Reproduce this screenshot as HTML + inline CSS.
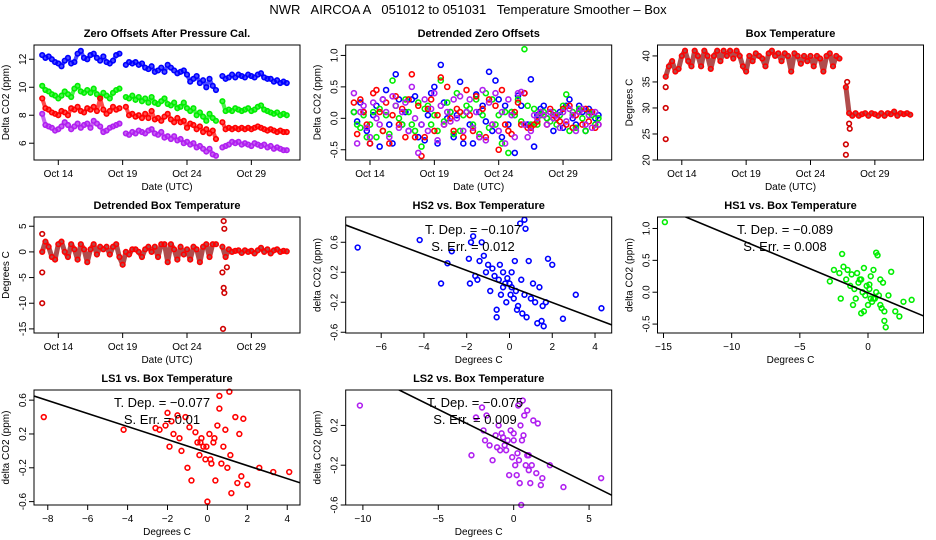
<!DOCTYPE html>
<html><head><meta charset="utf-8"><style>
html,body{margin:0;padding:0;background:#fff;}
svg{display:block;font-family:"Liberation Sans",sans-serif;}
</style></head><body>
<svg id="c" width="936" height="540" viewBox="0 0 936 540" xmlns="http://www.w3.org/2000/svg">
<rect width="936" height="540" fill="#fff"/>
<text x="468" y="14" text-anchor="middle" font-size="13" style="white-space:pre" xml:space="preserve">NWR   AIRCOA A   051012 to 051031   Temperature Smoother – Box</text>
</svg>
<script>
// ---- data (time step 0.25 day starting Oct 12.75) ----
const tsStart = 12.75;
const tsStep = 0.25;
const dateTicks = [14,19,24,29];
const dateTickLabels = ["Oct 14","Oct 19","Oct 24","Oct 29"];
const zeroBlue = [12.3,12.1,12.2,12.0,11.8,11.7,11.5,11.9,12.1,11.7,11.8,12.4,12.6,12.1,12.0,12.3,12.4,12.1,11.9,12.2,11.8,11.7,11.9,12.3,12.4,null,11.6,11.8,11.7,11.8,11.6,11.7,11.4,11.3,11.5,11.1,11.2,11.4,11.1,11.6,11.4,11.2,11.0,11.1,11.2,10.9,10.4,10.6,10.8,10.3,10.5,10.0,10.6,10.1,9.8,null,10.8,10.6,10.7,10.9,10.7,10.9,10.8,10.7,10.9,10.8,10.7,10.9,11.0,10.7,10.6,10.6,10.4,10.5,10.3,10.4,10.3];
const zeroGreen = [10.1,9.8,9.7,9.5,9.4,9.2,9.4,9.7,9.5,9.3,9.9,10.1,9.7,9.6,9.8,9.6,9.9,9.5,9.3,9.6,9.4,9.2,9.6,9.8,9.9,null,9.3,9.2,9.4,9.1,9.3,9.0,9.2,8.9,9.3,8.9,8.8,9.0,9.2,8.8,8.7,8.9,8.5,8.6,8.9,8.5,8.3,8.5,8.0,8.2,7.9,7.6,8.1,7.8,7.6,null,9.0,8.3,8.4,8.3,8.5,8.4,8.3,8.4,8.5,8.3,8.4,8.6,8.7,8.4,8.3,8.2,8.1,8.2,8.0,8.1,8.0];
const zeroRed = [9.2,8.5,8.4,8.2,8.1,8.0,8.3,8.2,8.0,8.5,8.4,8.6,8.3,8.2,8.5,8.4,8.6,8.3,9.2,8.4,8.1,8.3,8.6,8.4,8.5,null,8.6,8.0,8.1,7.9,8.0,7.8,8.1,7.8,8.3,7.7,7.8,7.6,7.9,8.1,7.7,7.5,7.8,7.5,7.6,7.1,7.4,7.3,7.0,7.2,6.8,7.0,6.7,6.9,6.3,null,7.5,7.0,7.1,7.0,7.1,7.0,7.1,7.0,7.1,7.0,7.1,7.2,7.1,7.0,6.9,7.0,6.9,6.8,6.9,6.8,6.8];
const zeroPurple = [8.1,7.3,7.2,7.1,6.9,7.0,7.2,7.5,7.3,7.0,7.2,7.4,7.1,7.3,7.4,7.1,7.6,7.4,7.2,6.8,6.9,7.1,7.2,7.3,7.4,null,6.7,6.6,6.8,6.7,6.9,6.8,6.7,6.9,7.0,6.7,6.6,6.8,6.4,6.5,6.3,6.5,6.2,6.3,6.0,6.1,5.9,6.0,5.7,5.8,5.6,5.4,5.6,5.2,5.1,null,5.7,5.8,5.9,6.1,6.0,6.1,5.9,6.0,5.9,5.8,6.0,5.9,5.8,5.9,5.7,5.8,5.6,5.7,5.6,5.5,5.5];
const detBlue = [0.1,-0.05,0.25,0.1,-0.2,-0.4,0.05,0.2,-0.45,0.3,0.45,-0.1,-0.4,0.7,0.3,-0.1,0.1,-0.2,0.3,0.35,-0.3,-0.1,-0.35,0.05,0.4,0.5,-0.4,0.85,0.25,0,0.1,-0.3,0.05,0.58,-0.4,0.1,-0.1,-0.4,0.38,0.1,0.2,-0.05,0.74,-0.2,0.6,0.3,-0.3,0.2,-0.1,0.1,-0.55,0.36,0.2,0.4,-0.1,0.62,-0.45,0.05,0.15,0.2,0,0.1,-0.2,0.05,0.1,-0.15,0.2,0.3,0,-0.1,0.2,0.1,-0.2,0.15,0.1,0,0.05];
const detGreen = [0.1,-0.1,-0.15,0.05,-0.3,-0.1,0.1,-0.3,0.15,-0.2,0.05,-0.25,0.6,0.2,0,-0.1,0.3,0.1,-0.1,-0.2,0.25,-0.45,0.15,0.2,-0.1,0.05,-0.2,0.6,-0.05,0.25,0.1,-0.25,0.4,-0.2,0.05,0.2,0.15,-0.1,0.3,-0.25,0.05,0.4,-0.15,0.3,-0.1,0.05,-0.4,0.1,-0.55,0.1,0.05,0.3,-0.05,1.1,0.2,-0.1,0.15,-0.1,0.05,0.1,0,-0.05,0.1,-0.1,0.05,0.2,0.38,-0.2,0.1,-0.15,0.15,0,-0.2,0.1,0.05,-0.1,0];
const detRed = [0.25,-0.25,0.3,0.1,-0.1,-0.4,0.4,0.45,0.1,-0.2,0.25,-0.4,0.05,0.35,-0.1,0.15,-0.3,0.3,0.7,-0.3,0.2,-0.6,-0.3,0.15,0.3,-0.2,0.05,0.65,-0.1,0.5,0,-0.2,0.15,0.1,-0.3,0.45,0.05,-0.2,0.35,-0.3,0.15,-0.3,0.3,-0.1,0.2,-0.5,0.45,-0.1,-0.2,-0.25,0.1,0.25,-0.1,0.4,-0.15,-0.15,-0.1,-0.05,0.1,0.05,-0.1,0.15,0.05,0,-0.05,0.15,-0.1,0.2,-0.15,0.05,0.1,-0.1,0.15,-0.05,0.1,-0.15,-0.1];
const detPurple = [0.4,-0.4,0.1,0.2,-0.15,-0.3,0.25,0,-0.1,0.3,0.1,-0.3,0.35,0.2,-0.15,0.1,0.25,-0.2,0.5,0,-0.55,-0.1,0.3,-0.2,0.15,0.4,-0.35,0.2,-0.1,0.1,-0.05,0.3,0,0.35,-0.2,0.1,0.3,-0.15,0.1,-0.3,0.45,-0.35,0.25,-0.1,0.4,-0.2,0.1,-0.4,0.3,0.05,-0.3,0.4,0.42,-0.1,-0.3,-0.2,0.05,0,0.1,0.05,-0.1,0.1,0,0.05,-0.15,0.1,-0.05,0.15,0.05,-0.2,0.1,0.15,-0.1,0.05,-0.15,0.1,-0.1];
const boxTemp = [36,38,39,37,37.5,40,41,39,38,41,40,38,41,40,37.5,40,41,39,41,40,41,39.5,41,40,38,37,40,39,40.5,40,39.5,38,40.5,41,40,40.5,39,40.5,40,37,40.5,40,38.5,40,39,40,38,40,39.5,37,40,40.5,38,40,39.5,null,34,29,28.5,29,28.5,28.8,29,28.5,29,28.8,28.5,29,28.5,29,28.8,29.3,28.5,29,28.8,29,28.7];
const boxOutDays = [12.75,12.75,12.75,26.75,26.75,26.85,27.0,27.05];
const boxOutVals = [24,30,34,21,23,35,27,26];
const detBox = [0,2,1,-1,-1.5,1.5,2,0,-1,1.5,0.5,-1.5,1.5,0.5,-2,0.5,1.5,-0.5,1,0.5,1,-0.5,1,1.5,-1,-2.5,0,-0.5,0.5,0.5,0,-1,0.5,1,0,1,-1,1.5,1.5,-2,1.5,0.5,-1.5,1,-0.5,0.5,-1.5,1,0.5,-2,1,1.5,-1,1.5,1.5,null,1,-1,0.5,0,0.2,0.3,-0.2,0.3,0,0.2,-0.3,0.3,0.8,0,0.5,-0.3,0.3,0.5,0,0.2,0.1];
const detBoxOutDays = [12.75,12.75,12.75,26.75,26.85,26.9,26.85,26.9,26.8,27.1];
const detBoxOutVals = [3.5,-4,-10,-4,-7,-8,6,4.5,-15,-3];
// ---- scatter data ----
const hs2X = [-7.1,-4.2,-3.2,-2.9,-2.7,-1.9,-1.85,-1.8,-1.7,-1.6,-1.5,-1.4,-1.3,-1.2,-1.1,-1,-0.9,-0.8,-0.7,-0.6,-0.5,-0.45,-0.4,-0.3,-0.2,-0.15,-0.1,0,0.05,0.1,0.2,0.25,0.3,0.4,0.5,0.55,0.6,0.7,0.8,0.9,1.0,1.1,1.2,1.3,1.4,1.5,1.6,1.7,1.8,2.0,2.5,3.1,4.3,0.7,0.75,-0.3,0.1,0.35,-0.6,1.55];
const hs2Y = [0.53,0.63,0.05,0.32,0.48,0.38,0.05,0.6,0.68,0.15,0.1,0.35,0.6,0.42,0.2,0.3,-0.05,0.25,0.15,-0.3,0.1,0.3,-0.1,0.2,0.05,-0.2,0.12,0.05,-0.1,0.0,-0.15,0.35,-0.05,-0.25,0.85,0.1,-0.35,-0.1,-0.4,0.35,-0.15,0.05,-0.2,-0.48,0.0,-0.45,-0.52,-0.2,0.38,0.3,-0.42,-0.1,-0.28,0.9,0.78,0,0.2,-0.3,-0.4,-0.25];
const hs1X = [-14.9,-2.8,-2.5,-2.1,-2,-1.9,-1.8,-1.6,-1.5,-1.3,-1.2,-1.0,-0.9,-0.8,-0.7,-0.6,-0.5,-0.4,-0.3,-0.2,-0.1,0,0.1,0.2,0.3,0.4,0.5,0.6,0.7,0.8,0.9,1.0,1.1,1.2,1.3,1.5,1.7,2.0,2.3,2.6,3.2,-0.5,0.2,-1.1,0.6,0.1,-0.3,0.4,0.9,1.2];
const hs1Y = [1.1,0.17,0.35,0.3,-0.1,0.6,0.4,0.2,0.35,0.1,0.28,0.05,-0.1,0.3,0.15,0.2,-0.33,0,0.38,-0.05,0.1,-0.2,0.05,0.25,-0.15,0.35,-0.1,0.62,0.58,-0.05,0.2,-0.25,0.15,-0.3,-0.55,-0.05,0.32,-0.3,-0.38,-0.15,-0.12,0.2,-0.1,-0.2,0,0.12,-0.3,-0.1,-0.2,-0.45];
const ls1X = [-8.2,-4.2,-2.6,-2.4,-2.1,-2,-1.9,-1.8,-1.7,-1.5,-1.4,-1.3,-1.1,-1,-0.9,-0.8,-0.6,-0.5,-0.4,-0.3,-0.2,-0.1,0,0.1,0.2,0.3,0.4,0.5,0.6,0.6,0.8,0.9,1,1.1,1.2,1.4,1.5,1.6,1.7,1.8,2,2.6,3.3,4.1,-0.05,0.15,0.35,-0.35,0.7,1.15];
const ls1Y = [0.4,0.25,0.27,0.25,0.3,0.45,0.05,0.35,0.2,0.42,0.15,0,0.4,-0.2,0.28,-0.35,0.22,0.1,-0.05,0.15,0.05,-0.1,-0.6,0.2,-0.15,0.1,-0.35,0.3,0.65,0.5,0.05,0.25,-0.2,0.7,-0.5,0.4,-0.38,0.2,-0.3,0.38,-0.4,-0.2,-0.25,-0.25,0.05,-0.1,0.15,0.1,-0.15,-0.05];
const ls2X = [-10.2,-2.8,-2.5,-2.1,-2,-1.9,-1.8,-1.6,-1.4,-1.2,-1,-0.9,-0.8,-0.6,-0.5,-0.3,-0.2,-0.1,0,0.1,0.2,0.3,0.4,0.5,0.6,0.7,0.8,0.9,1,1.1,1.2,1.3,1.5,1.6,1.8,1.9,2.4,3.3,5.8,0.45,-0.4,0.25,0.65,1,-1.1,0,0.35,0.55,-0.7,0.9];
const ls2Y = [0.4,-0.1,0.28,0.38,0.15,0.05,0.3,0,-0.15,0.1,0.2,-0.05,0.12,0,-0.05,-0.3,0.15,-0.12,0.05,-0.2,-0.3,0.4,-0.38,-0.6,0.45,0.3,-0.2,0.35,-0.1,-0.38,-0.2,0.25,-0.28,0.22,-0.4,-0.33,-0.2,-0.42,-0.33,0.2,0.05,-0.08,0.1,-0.25,-0.02,0.12,-0.15,0.05,0.08,-0.1];
const slopes = [-0.107,-0.089,-0.077,-0.075];
const intercepts = [0.01,-0.01,-0.02,-0.014];
const depLabels = ["T. Dep. =  −0.107","T. Dep. =  −0.089","T. Dep. =  −0.077","T. Dep. =  −0.075"];
const errLabels = ["S. Err. =  0.012","S. Err. =  0.008","S. Err. =  0.01","S. Err. =  0.009"];

const NS = "http://www.w3.org/2000/svg";
const svg = document.getElementById('c');
function mk(tag, attrs, parent){
  const e = document.createElementNS(NS, tag);
  for (const k in attrs) e.setAttribute(k, attrs[k]);
  (parent||svg).appendChild(e);
  return e;
}
const COLS=[34,345.7,657.5], ROWS=[[45,160],[217,333],[390,505]], W=266;
function panel(name, col, row, xmin, xmax, ymin, ymax, title, xlab, ylab){
  const l=COLS[col], t=ROWS[row][0], b=ROWS[row][1];
  const g = mk('g',{});
  
  
  const p = {g,l,t,b,r:l+W,
    sx: v => l + (v-xmin)/(xmax-xmin)*W,
    sy: v => b - (v-ymin)/(ymax-ymin)*(b-t)};
  const tt = mk('text',{x:l+W/2,y:t-8,'text-anchor':'middle','font-size':11,'font-weight':'bold'},g);
  tt.textContent = title;
  
  
  const xl = mk('text',{x:l+W/2,y:b+30,'text-anchor':'middle','font-size':10},g);
  xl.textContent = xlab;
  
  
  const yl = mk('text',{x:0,y:0,'text-anchor':'middle','font-size':10,transform:`translate(${l-25},${(t+b)/2}) rotate(-90)`},g);
  yl.textContent = ylab;
  
  
  return p;
}
function xAxis(p, vals, labels){
  const ax = mk('g',{},p.g);
  
  
  vals.forEach((v,i)=>{
    const x=p.sx(v);
    mk('line',{x1:x,x2:x,y1:p.b,y2:p.b+5,stroke:'#000'},ax);
    const tx = mk('text',{x:x,y:p.b+17,'text-anchor':'middle','font-size':10},ax);
    tx.textContent = labels[i];
    
    
  });
}
function yAxis(p, vals, labels){
  const ax = mk('g',{},p.g);
  
  
  vals.forEach((v,i)=>{
    const y=p.sy(v);
    mk('line',{x1:p.l-5,x2:p.l,y1:y,y2:y,stroke:'#000'},ax);
    const tx = mk('text',{x:0,y:0,'text-anchor':'middle','font-size':10,transform:`translate(${p.l-8},${y}) rotate(-90)`},ax);
    tx.textContent = labels[i];
    
    
  });
}
function frame(p){
  const f = mk('rect',{x:p.l,y:p.t,width:W,height:p.b-p.t,fill:'none',stroke:'#000'},p.g);
  
  
}
// thick band connecting consecutive samples (mimics dense hourly markers)
function band(p, xs, ys, color, name, w){
  let segs=[], cur=[];
  for(let i=0;i<ys.length;i++){
    if(ys[i]===null){ if(cur.length) segs.push(cur); cur=[]; continue; }
    cur.push(p.sx(xs[i]).toFixed(1)+','+p.sy(ys[i]).toFixed(1));
  }
  if(cur.length) segs.push(cur);
  segs.forEach(s=>{
    const pl = mk('polyline',{points:s.join(' '),fill:'none',stroke:color,'stroke-width':w,'stroke-linejoin':'round','stroke-linecap':'round','stroke-opacity':0.7},p.g);
    
    
  });
}
function pts(p, xs, ys, color, name, r){
  const g = mk('g',{fill:'none',stroke:color,'stroke-width':1.6},p.g);
  
  
  for(let i=0;i<ys.length;i++){
    if(ys[i]===null||xs[i]===null) continue;
    const c = mk('circle',{cx:p.sx(xs[i]),cy:p.sy(ys[i]),r:r||2.3},g);
    
    
  }
}
function days(arr){ return arr.map((_,i)=>tsStart+i*tsStep); }
const dateLo = 14 - 24.3/12.87, dateHi = dateLo + W/12.87;

// Panel 1
let p = panel('zero-offsets-panel',0,0,dateLo,dateHi,4.8,13.02,'Zero Offsets After Pressure Cal.','Date (UTC)','Delta CO2 (ppm)');
[[zeroBlue,'#0000ff','series-hs2'],[zeroGreen,'#00ee00','series-hs1'],[zeroRed,'#ff0000','series-ls1'],[zeroPurple,'#b020f0','series-ls2']].forEach(s=>{
  band(p,days(s[0]),s[0],s[1],s[2]+'-band',4);
  pts(p,days(s[0]),s[0],s[1],s[2]);
});
frame(p); xAxis(p,dateTicks,dateTickLabels); yAxis(p,[6,8,10,12],['6','8','10','12']);
// Panel 2
p = panel('detrended-zero-panel',1,0,dateLo,dateHi,-0.663,1.166,'Detrended Zero Offsets','Date (UTC)','Delta CO2 (ppm)');
[[detBlue,'#0000ff','series-hs2'],[detGreen,'#00ee00','series-hs1'],[detRed,'#ff0000','series-ls1'],[detPurple,'#b020f0','series-ls2']].forEach(s=>{
  pts(p,days(s[0]),s[0],s[1],s[2],2.5);
});
frame(p); xAxis(p,dateTicks,dateTickLabels); yAxis(p,[-0.5,0,0.5,1],['-0.5','0.0','0.5','1.0']);
// Panel 3
p = panel('box-temperature-panel',2,0,dateLo,dateHi,20,42.1,'Box Temperature','Date (UTC)','Degrees C');
band(p,days(boxTemp),boxTemp,'#900000','box-temp-band',5);
pts(p,days(boxTemp),boxTemp,'#ff0000','box-temp-series');
pts(p,boxOutDays,boxOutVals,'#d00000','box-temp-outliers');
frame(p); xAxis(p,dateTicks,dateTickLabels); yAxis(p,[20,25,30,35,40],['20','25','30','35','40']);
// Panel 4
p = panel('detrended-box-temp-panel',0,1,dateLo,dateHi,-15.8,6.8,'Detrended Box Temperature','Date (UTC)','Degrees C');
band(p,days(detBox),detBox,'#900000','det-box-temp-band',5);
pts(p,days(detBox),detBox,'#ff0000','det-box-temp-series');
pts(p,detBoxOutDays,detBoxOutVals,'#d00000','det-box-temp-outliers');
frame(p); xAxis(p,dateTicks,dateTickLabels); yAxis(p,[-15,-10,-5,0,5],['-15','-10','-5','0','5']);

function scatterPanel(name,col,row,xmin,xmax,ymin,ymax,title,xs,ys,color,k,xt,yt,ytl,tx){
  const q = panel(name,col,row,xmin,xmax,ymin,ymax,title,'Degrees C','delta CO2 (ppm)');
  pts(q,xs,ys,color,'scatter-points',2.4);
  const cp = mk('clipPath',{id:'cp'+k},q.g);
  mk('rect',{x:q.l,y:q.t,width:W,height:q.b-q.t},cp);
  const ln = mk('line',{x1:q.sx(xmin),y1:q.sy(intercepts[k]+slopes[k]*xmin),x2:q.sx(xmax),y2:q.sy(intercepts[k]+slopes[k]*xmax),stroke:'#000','stroke-width':1.6,'clip-path':'url(#cp'+k+')'},q.g);
  
  
  const a = mk('text',{x:tx,y:q.t+17,'text-anchor':'middle','font-size':13},q.g);
  a.textContent = depLabels[k];
  
  
  const e = mk('text',{x:tx,y:q.t+34,'text-anchor':'middle','font-size':13},q.g);
  e.textContent = errLabels[k];
  
  
  frame(q); xAxis(q,xt,xt.map(v=>v<0?'−'+(-v):String(v))); yAxis(q,yt,ytl);
}
scatterPanel('hs2-scatter-panel',1,1,-7.66,4.78,-0.61,0.937,'HS2 vs. Box Temperature',hs2X,hs2Y,'#0000ff',0,[-6,-4,-2,0,2,4],[-0.6,-0.2,0.2,0.6],['-0.6','-0.2','0.2','0.6'],473);
scatterPanel('hs1-scatter-panel',2,1,-15.44,4.07,-0.64,1.18,'HS1 vs. Box Temperature',hs1X,hs1Y,'#00ee00',1,[-15,-10,-5,0],[-0.5,0,0.5,1],['-0.5','0.0','0.5','1.0'],785);
scatterPanel('ls1-scatter-panel',0,2,-8.69,4.64,-0.64,0.72,'LS1 vs. Box Temperature',ls1X,ls1Y,'#ff0000',2,[-8,-6,-4,-2,0,2,4],[-0.6,-0.2,0.2,0.6],['-0.6','-0.2','0.2','0.6'],162);
scatterPanel('ls2-scatter-panel',1,2,-11.14,6.5,-0.6,0.556,'LS2 vs. Box Temperature',ls2X,ls2Y,'#b020f0',3,[-10,-5,0,5],[-0.6,-0.2,0.2],['-0.6','-0.2','0.2'],475);
</script>
</body></html>
